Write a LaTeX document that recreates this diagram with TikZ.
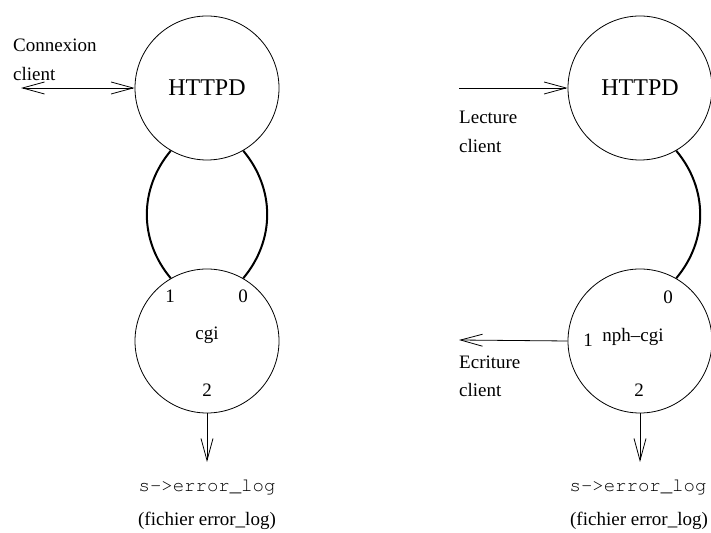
\documentclass[tikz,border=0pt]{standalone}
\usepackage{fontspec}
\setmainfont{Liberation Serif}
\setmonofont{Liberation Mono}
\usetikzlibrary{positioning, arrows.meta}
\newcommand{\courfont}{\fontencoding{T1}\fontfamily{pcr}\fontsize{19}{22}\selectfont}

\begin{document}
\begin{tikzpicture}[x=1pt, y=1pt,
    proc/.style={draw, circle, line width=0.8pt, minimum size=144pt, inner sep=0pt},
    txt/.style={font=\fontsize{19}{22}\selectfont, inner sep=0pt},
    big/.style={font=\fontsize{24}{28}\selectfont, inner sep=0pt},
    code/.style={font=\courfont, inner sep=0pt},
    arr/.style={line width=0.8pt, -{Straight Barb[length=22pt, width=12pt]}},
    darr/.style={line width=0.8pt, {Straight Barb[length=22pt, width=12pt]}-{Straight Barb[length=22pt, width=12pt]}},
    pipe/.style={line width=2pt}]
  \useasboundingbox (0,0) rectangle (711,532);

  % left: cgi
  \node[proc] (httpdL) at (207,444) {};
  \node[big] (httpdLname) at (207,444) {HTTPD};
  \node[proc] (cgiL) at (207,191) {};
  \node[txt, anchor=base] (cgiLname) at (207,192) {cgi};
  \node[txt, anchor=base] (cgiL1) at (170,229) {1};
  \node[txt, anchor=base] (cgiL0) at (243,229) {0};
  \node[txt, anchor=base] (cgiL2) at (207,135) {2};
  \draw[pipe] (httpdL.240) to[bend right=40] (cgiL.120);
  \draw[pipe] (httpdL.300) to[bend left=40] (cgiL.60);

  \coordinate (clientL) at (21,444);
  \draw[darr] (clientL) -- (httpdL.west);
  \node[txt, anchor=base west] (connL) at (13,480) {Connexion};
  \node[txt, anchor=base west] (clientLtxt) at (13,451) {client};

  \node[code, anchor=base] (logL) at (207,40) {s->error\_log};
  \node[txt, anchor=base] (fileL) at (207,6) {(fichier error\_log)};
  \draw[arr] (cgiL.south) -- (207,70);

  % right: nph-cgi
  \node[proc] (httpdR) at (640,444) {};
  \node[big] (httpdRname) at (640,444) {HTTPD};
  \node[proc] (nphR) at (640,191) {};
  \node[txt, anchor=base] (nphRname) at (633,190) {nph--cgi};
  \node[txt, anchor=base] (nphR0) at (668,228) {0};
  \node[txt, anchor=base] (nphR1) at (588,185) {1};
  \node[txt, anchor=base] (nphR2) at (639,135) {2};
  \draw[pipe] (httpdR.300) to[bend left=40] (nphR.60);

  \coordinate (readR) at (459,444);
  \draw[arr] (readR) -- (httpdR.west);
  \node[txt, anchor=base west] (lectR) at (459,408) {Lecture};
  \node[txt, anchor=base west] (clientR1) at (459,379) {client};

  \coordinate (writeR) at (459,192);
  \draw[arr] (nphR.west) -- (writeR);
  \node[txt, anchor=base west] (ecrR) at (459,163) {Ecriture};
  \node[txt, anchor=base west] (clientR2) at (459,135) {client};

  \node[code, anchor=base] (logR) at (638,40) {s->error\_log};
  \node[txt, anchor=base] (fileR) at (639,6) {(fichier error\_log)};
  \draw[arr] (nphR.south) -- (640,70);
\end{tikzpicture}
\end{document}
